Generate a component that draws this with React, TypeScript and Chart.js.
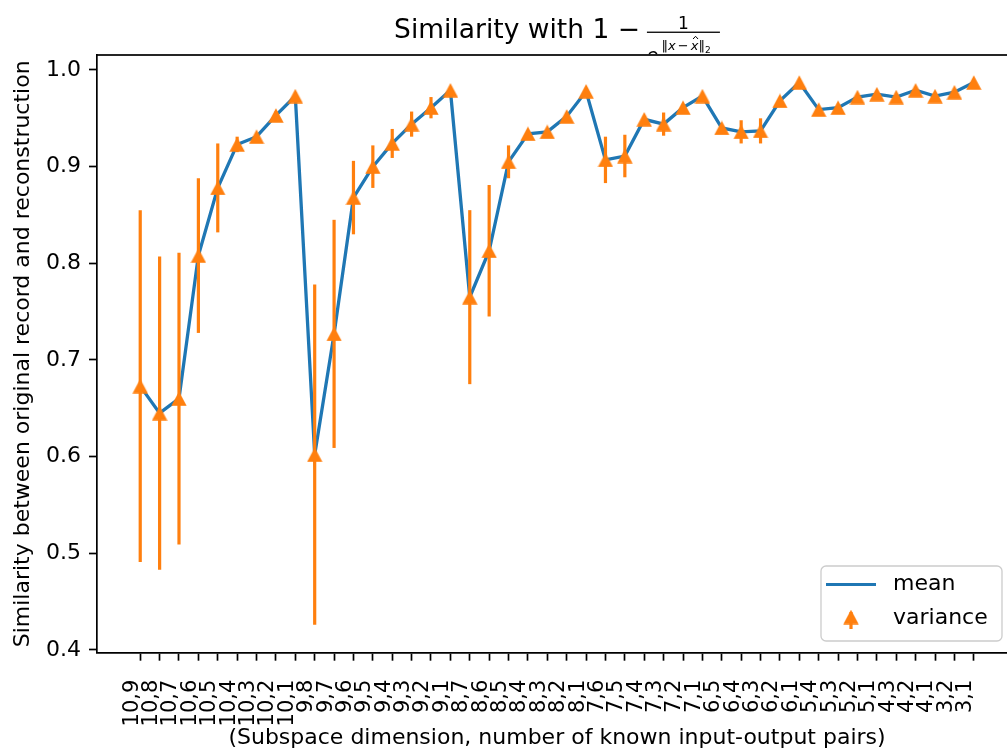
import React, { useEffect, useRef } from 'react';
import { Chart, registerables } from 'chart.js';

Chart.register(...registerables);

const categories = [
  '10,9', '10,8', '10,7', '10,6', '10,5', '10,4', '10,3', '10,2', '10,1',
  '9,8', '9,7', '9,6', '9,5', '9,4', '9,3', '9,2', '9,1',
  '8,7', '8,6', '8,5', '8,4', '8,3', '8,2', '8,1',
  '7,6', '7,5', '7,4', '7,3', '7,2', '7,1',
  '6,5', '6,4', '6,3', '6,2', '6,1',
  '5,4', '5,3', '5,2', '5,1',
  '4,3', '4,2', '4,1',
  '3,2', '3,1',
];

const meanValues = [
  0.673, 0.645, 0.660, 0.808, 0.878, 0.923, 0.931, 0.953, 0.973,
  0.602, 0.727, 0.868, 0.900, 0.924, 0.944, 0.961, 0.979,
  0.765, 0.813, 0.905, 0.934, 0.936, 0.952, 0.978,
  0.907, 0.911, 0.949, 0.944, 0.961, 0.973,
  0.940, 0.936, 0.937, 0.968, 0.987,
  0.959, 0.961, 0.972, 0.975,
  0.972, 0.979, 0.973,
  0.977, 0.987,
];

const errorValues = [
  0.182, 0.162, 0.151, 0.080, 0.046, 0.008, 0.003, 0.004, 0.002,
  0.176, 0.118, 0.038, 0.022, 0.015, 0.013, 0.011, 0.002,
  0.090, 0.068, 0.017, 0.003, 0.003, 0.003, 0.002,
  0.024, 0.022, 0.003, 0.012, 0.003, 0.002,
  0.003, 0.012, 0.013, 0.003, 0.002,
  0.002, 0.002, 0.002, 0.002,
  0.002, 0.002, 0.002,
  0.002, 0.002,
];

const yTickValues = [0.4, 0.5, 0.6, 0.7, 0.8, 0.9, 1.0];

const titleMain = 'Similarity with 1 \u2212';
const yAxisTitle = 'Similarity between original record and reconstruction';
const xAxisTitle = '(Subspace dimension, number of known input-output pairs)';
const legendLabels = ['mean', 'variance'];

const BLUE = '#1f77b4';
const ORANGE = '#ff7f0e';
const FONT = "'DejaVu Sans', sans-serif";

function makeTriangle(): HTMLCanvasElement {
  const c = document.createElement('canvas');
  c.width = 16;
  c.height = 15;
  const g = c.getContext('2d')!;
  g.fillStyle = ORANGE;
  g.beginPath();
  g.moveTo(8, 0.3);
  g.lineTo(15.7, 14.7);
  g.lineTo(0.3, 14.7);
  g.closePath();
  g.fill();
  return c;
}

export default function App() {
  const ref = useRef<HTMLCanvasElement | null>(null);

  useEffect(() => {
    const canvas = ref.current;
    if (!canvas) return;
    const tri = makeTriangle();

    const errorBarPlugin = {
      id: 'errorBars',
      beforeDatasetDraw(chart: any, args: any) {
        if (args.index !== 1) return;
        const { ctx, scales } = chart;
        const x = scales.x;
        const y = scales.y;
        ctx.save();
        ctx.strokeStyle = ORANGE;
        ctx.lineWidth = 3.2;
        ctx.lineCap = 'butt';
        meanValues.forEach((m, i) => {
          const e = errorValues[i];
          const px = x.getPixelForValue(i);
          ctx.beginPath();
          ctx.moveTo(px, y.getPixelForValue(m - e));
          ctx.lineTo(px, y.getPixelForValue(m + e));
          ctx.stroke();
        });
        ctx.restore();
      },
    };

    const decorPlugin = {
      id: 'decor',
      beforeDraw(chart: any) {
        const { ctx, chartArea } = chart;
        ctx.save();
        ctx.beginPath();
        ctx.rect(0, 0, chart.width, chartArea.top - 0.8);
        ctx.clip();
        ctx.fillStyle = '#000';
        ctx.strokeStyle = '#000';
        ctx.font = `26.5px ${FONT}`;
        ctx.textAlign = 'left';
        ctx.textBaseline = 'alphabetic';
        const wMain = ctx.measureText(titleMain).width;
        const gap = 7;
        const fracW = 73;
        const total = wMain + gap + fracW;
        const cx = (chartArea.left + chartArea.right) / 2;
        const x0 = cx - total / 2;
        ctx.fillText(titleMain, x0, 37.5);
        const fx = x0 + wMain + gap;
        ctx.fillRect(fx, 31.6, fracW, 1.3);
        ctx.font = `17px ${FONT}`;
        ctx.textAlign = 'center';
        ctx.fillText('1', fx + fracW / 2, 28.5);
        ctx.textAlign = 'left';
        ctx.font = `19px ${FONT}`;
        ctx.fillText('e', fx, 62);
        let sx = fx + ctx.measureText('e').width + 3;
        const sb = 50;
        const seg = (t: string, font: string, dy = 0) => {
          ctx.font = font;
          ctx.fillText(t, sx, sb + dy);
          const w = ctx.measureText(t).width;
          sx += w;
          return w;
        };
        seg('\u2016', `13px ${FONT}`);
        seg('x', `italic 13px ${FONT}`);
        sx += 2;
        seg('\u2212', `13px ${FONT}`);
        sx += 2;
        const hx = sx;
        const xw = seg('x', `italic 13px ${FONT}`);
        const hc = hx + xw / 2 + 1;
        ctx.lineWidth = 1;
        ctx.beginPath();
        ctx.moveTo(hc - 2.5, 39);
        ctx.lineTo(hc, 36.3);
        ctx.lineTo(hc + 2.5, 39);
        ctx.stroke();
        seg('\u2016', `13px ${FONT}`);
        seg('2', `9px ${FONT}`, 3);
        ctx.restore();
      },
      afterDraw(chart: any) {
        const { ctx, chartArea } = chart;
        ctx.save();
        // top and right spines
        ctx.fillStyle = '#000';
        ctx.fillRect(chartArea.left - 0.85, chartArea.top - 0.85, chartArea.right - chartArea.left + 1.7, 1.7);
        ctx.fillRect(chartArea.right - 0.85, chartArea.top - 0.85, 1.7, chartArea.bottom - chartArea.top + 1.7);
        // legend
        const bx = 821, by = 566, bw = 181, bh = 75;
        ctx.beginPath();
        ctx.roundRect(bx, by, bw, bh, 5);
        ctx.fillStyle = 'rgba(255,255,255,0.8)';
        ctx.fill();
        ctx.strokeStyle = '#cccccc';
        ctx.lineWidth = 1.3;
        ctx.stroke();
        ctx.strokeStyle = BLUE;
        ctx.lineWidth = 3.2;
        ctx.beginPath();
        ctx.moveTo(826, 584.5);
        ctx.lineTo(876, 584.5);
        ctx.stroke();
        ctx.strokeStyle = ORANGE;
        ctx.beginPath();
        ctx.moveTo(851, 612);
        ctx.lineTo(851, 629);
        ctx.stroke();
        ctx.drawImage(tri, 851 - 8, 617 - 7.5);
        ctx.fillStyle = '#000';
        ctx.font = `22px ${FONT}`;
        ctx.textAlign = 'left';
        ctx.textBaseline = 'middle';
        ctx.fillText(legendLabels[0], 893, 584);
        ctx.fillText(legendLabels[1], 893, 618);
        ctx.restore();
      },
    };

    const chart = new Chart(canvas, {
      type: 'line',
      data: {
        datasets: [
          {
            label: legendLabels[0],
            data: meanValues.map((m, i) => ({ x: i, y: m })),
            borderColor: BLUE,
            backgroundColor: BLUE,
            borderWidth: 3.3,
            pointRadius: 0,
            tension: 0,
            fill: false,
            order: 2,
          },
          {
            label: legendLabels[1],
            data: meanValues.map((m, i) => ({ x: i, y: m })),
            showLine: false,
            pointStyle: tri as any,
            pointRadius: 7,
            borderColor: ORANGE,
            backgroundColor: ORANGE,
            order: 1,
          },
        ],
      },
      options: {
        animation: false,
        responsive: false,
        maintainAspectRatio: false,
        layout: { padding: { left: 0, right: 5, top: 55, bottom: 0 } },
        plugins: {
          legend: { display: false },
          tooltip: { enabled: false },
          title: { display: false },
        },
        scales: {
          x: {
            type: 'linear',
            min: -2.23,
            max: 45.23,
            afterBuildTicks: (s: any) => {
              s.ticks = categories.map((_, i) => ({ value: i }));
            },
            afterFit: (s: any) => {
              s.height = 103.3;
            },
            ticks: {
              autoSkip: false,
              minRotation: 90,
              maxRotation: 90,
              padding: 19,
              labelOffset: -8,
              color: '#000',
              font: { family: FONT, size: 21 },
              callback: (v: any) => categories[Math.round(Number(v))] ?? '',
            },
            grid: {
              drawOnChartArea: false,
              drawTicks: true,
              tickLength: 8,
              tickColor: '#000',
              tickWidth: 1.7,
            },
            border: { display: true, color: '#000', width: 1.7 },
            title: {
              display: true,
              text: xAxisTitle,
              color: '#000',
              font: { family: FONT, size: 22 },
              padding: { top: 0, bottom: 5 },
            },
          },
          y: {
            type: 'linear',
            min: 0.3972,
            max: 1.0155,
            afterBuildTicks: (s: any) => {
              s.ticks = yTickValues.map((v) => ({ value: v }));
            },
            afterFit: (s: any) => {
              s.width = 97;
            },
            ticks: {
              padding: 8,
              color: '#000',
              font: { family: FONT, size: 22 },
              callback: (v: any) => Number(v).toFixed(1),
            },
            grid: {
              drawOnChartArea: false,
              drawTicks: true,
              tickLength: 8,
              tickColor: '#000',
              tickWidth: 1.7,
            },
            border: { display: true, color: '#000', width: 1.7 },
            title: {
              display: true,
              text: yAxisTitle,
              color: '#000',
              font: { family: FONT, size: 22 },
              padding: { top: 10, bottom: 0 },
            },
          },
        },
      } as any,
      plugins: [errorBarPlugin, decorPlugin],
    });

    return () => chart.destroy();
  }, []);

  return (
    <div
      style={{
        position: 'fixed',
        left: 0,
        top: 0,
        width: 1007,
        height: 756,
        overflow: 'hidden',
        background: '#fff',
      }}
    >
      <canvas ref={ref} width={1025} height={756} style={{ width: 1025, height: 756, display: 'block' }} />
    </div>
  );
}
